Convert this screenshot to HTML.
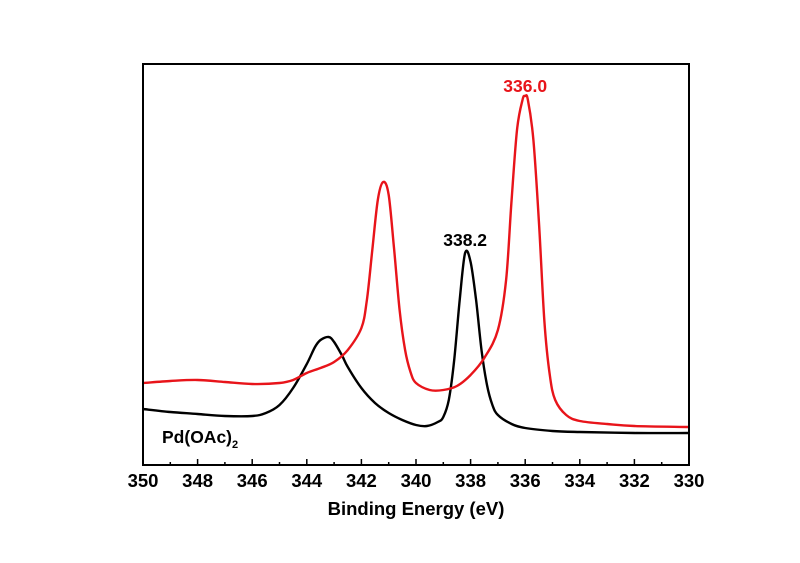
<!DOCTYPE html>
<html><head><meta charset="utf-8"><style>
body{margin:0;background:#fff;}
svg text{font-family:"Liberation Sans",Arial,sans-serif;font-weight:bold;}
</style></head><body>
<svg id="chart" width="800" height="558" xmlns="http://www.w3.org/2000/svg">
<rect width="800" height="558" fill="#fff"/>
<g id="plot"></g>
</svg>
<script>
const ticks=[350,348,346,344,342,340,338,336,334,332,330];
const blackE=[350,349,348,347,346,345.5,345,344.5,344,343.7,343.5,343.2,343,342.7,342.5,342,341.5,341,340.5,340,339.6,339.2,339,338.8,338.6,338.4,338.2,338,337.8,337.6,337.4,337.2,337,336.5,336,335,334,332,330];
const blackI=[56,53,51,49,49,52,60,77,101,118,125,128,123,109,98,77,62,52,45,40,39,43,48,65,105,165,212,203,165,115,80,60,50,41,37,34,33,32,32];
const redE=[350,349,348,347,346,345,344.5,344,343.5,343,342.5,342,341.8,341.6,341.4,341.2,341,340.8,340.6,340.4,340.2,340,339.5,339,338.5,338,337.5,337,336.7,336.5,336.3,336.1,336,335.9,335.7,335.5,335.3,335.1,334.9,334.5,334,333,332,330];
const redI=[82,84,85,83,81,82,85,92,97,103,115,137,165,215,265,283,270,215,155,115,93,82,75,75,79,90,107,135,185,265,335,365,369,365,325,245,145,90,65,50,44,41,39,38];
const L=143,R=689,T=64,B=465;
const xs=e=>L+(350-e)/20*(R-L);
const ys=v=>B-v*(B-T)/401;
const NS='http://www.w3.org/2000/svg';
const g=document.getElementById('plot');
function mk(tag,attrs,txt){const el=document.createElementNS(NS,tag);for(const k in attrs)el.setAttribute(k,attrs[k]);if(txt!==undefined)el.textContent=txt;g.appendChild(el);return el;}
function series(E,I,color,name){
 const P=E.map((e,i)=>[xs(e),ys(I[i])]);
 let d='M'+P[0][0].toFixed(1)+','+P[0][1].toFixed(1);
 for(let i=0;i<P.length-1;i++){
  const p0=P[Math.max(0,i-1)],p1=P[i],p2=P[i+1],p3=P[Math.min(P.length-1,i+2)];
  const c1=[p1[0]+(p2[0]-p0[0])/6,p1[1]+(p2[1]-p0[1])/6];
  const c2=[p2[0]-(p3[0]-p1[0])/6,p2[1]-(p3[1]-p1[1])/6];
  d+=' C'+c1[0].toFixed(1)+','+c1[1].toFixed(1)+' '+c2[0].toFixed(1)+','+c2[1].toFixed(1)+' '+p2[0].toFixed(1)+','+p2[1].toFixed(1);
 }
 const p=mk('path',{d:d,fill:'none',stroke:color,'stroke-width':2.4,'stroke-linejoin':'round'});
 
 
}
series(blackE,blackI,'#000','pd-oac2-line');
series(redE,redI,'#e8141a','sample-line');
const frame=mk('rect',{x:L,y:T,width:R-L,height:B-T,fill:'none',stroke:'#000','stroke-width':2});


for(let e=350;e>=330;e--){
 const major=(e%2===0);
 const t=mk('line',{x1:xs(e),x2:xs(e),y1:B,y2:B-(major?6:3),stroke:'#000','stroke-width':1.5});
 
 
}
ticks.forEach(v=>{
 const t=mk('text',{x:xs(v),y:B+22,'text-anchor':'middle','font-size':18.5},String(v));
 
 
});
const xt=mk('text',{x:416,y:515,'text-anchor':'middle','font-size':18.5},'Binding Energy (eV)');


const a1=mk('text',{x:xs(336.0),y:92,'text-anchor':'middle','font-size':17.5,fill:'#e8141a'},'336.0');


const a2=mk('text',{x:xs(338.2),y:246,'text-anchor':'middle','font-size':17.5},'338.2');


const lab=mk('text',{x:162,y:443,'font-size':17.5},'Pd(OAc)');


const sub=document.createElementNS(NS,'tspan');sub.setAttribute('font-size',11);sub.setAttribute('dy',5);sub.textContent='2';lab.appendChild(sub);
</script>
</body></html>
